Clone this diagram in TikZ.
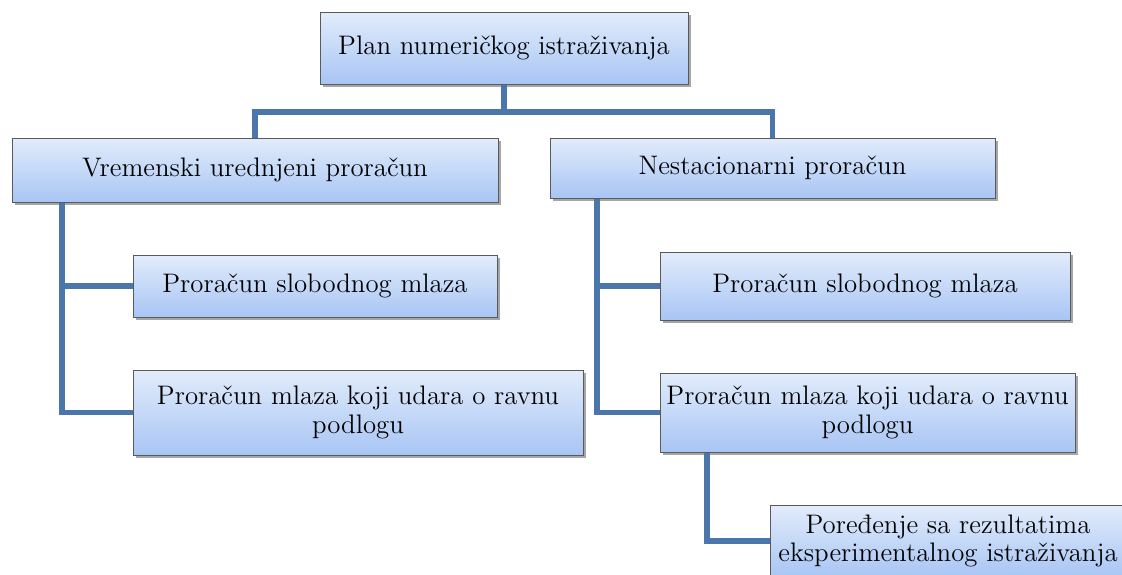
\documentclass[tikz,border=0pt]{standalone}
\usepackage{tikz}
\usetikzlibrary{shadows,positioning}

\definecolor{linkblue}{HTML}{4A76AC}
\definecolor{boxtop}{HTML}{E2ECFB}
\definecolor{boxbot}{HTML}{A8C5F4}
\definecolor{boxline}{HTML}{5A5A5A}

\begin{document}
\begin{tikzpicture}[
  x=0.5pt,y=-0.5pt,
  box/.style={rectangle,draw=boxline,line width=0.5pt,top color=boxtop,bottom color=boxbot,
    drop shadow={shadow xshift=1.5pt,shadow yshift=-1.5pt,opacity=.35,fill=black},
    align=center,inner sep=2pt,font=\fontsize{13.4}{14.2}\selectfont},
  link/.style={draw=linkblue,line width=2.6pt}
]
  \useasboundingbox (0,0) rectangle (1122,574);

  \node[box,minimum width=184pt,minimum height=36pt] (plan) at (504,48) {Plan numeričkog istraživanja};

  \node[box,minimum width=243pt,minimum height=32pt] (vu) at (255,170) {Vremenski urednjeni proračun};
  \node[box,minimum width=222.5pt,minimum height=30pt] (ns) at (772.5,168) {Nestacionarni proračun};

  \node[box,minimum width=182pt,minimum height=31pt] (vu1) at (315,286) {Proračun slobodnog mlaza};
  \node[box,minimum width=225pt,minimum height=42.5pt] (vu2) at (358,412.5) {Proračun mlaza koji udara o ravnu\\podlogu};

  \node[box,minimum width=205pt,minimum height=34pt] (ns1) at (865,286) {Proračun slobodnog mlaza};
  \node[box,minimum width=207.5pt,minimum height=39.5pt] (ns2) at (867.5,412.5) {Proračun mlaza koji udara o ravnu\\podlogu};

  \node[box,minimum width=178pt,minimum height=36pt] (cmp) at (948,541) {Poređenje sa rezultatima\\eksperimentalnog istraživanja};

  % connectors
  \coordinate (j) at (504,112);
  \draw[link] (plan.south) -- (j);
  \draw[link] (vu.north) |- (j) -| (ns.north);

  \coordinate (vt) at (62,0);
  \draw[link] (vu.south -| vt) |- (vu2.west);
  \draw[link] (vu1.west) -- (vu1.west -| vt);

  \coordinate (nt) at (597,0);
  \draw[link] (ns.south -| nt) |- (ns2.west);
  \draw[link] (ns1.west) -- (ns1.west -| nt);

  \coordinate (ct) at (707,0);
  \draw[link] (ns2.south -| ct) |- (cmp.west);
\end{tikzpicture}
\end{document}
